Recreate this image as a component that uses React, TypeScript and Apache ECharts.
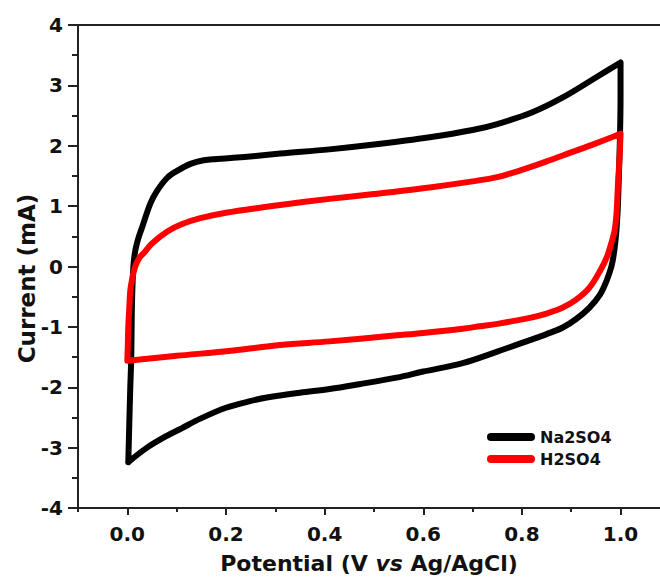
import React, { useEffect, useRef } from "react";
import * as echarts from "echarts";

// Na2SO4 cyclic voltammogram (closed loop, potential in V, current in mA)
const na2so4Potential = [
  0.002, 0.004, 0.006, 0.008, 0.009, 0.011, 0.014, 0.02, 0.03, 0.047, 0.06, 0.081, 0.1, 0.128, 0.155,
  0.182, 0.215, 0.26, 0.31, 0.41, 0.5, 0.613, 0.7, 0.75, 0.82, 0.883, 0.95, 1.0,
  1.0, 0.999, 0.997, 0.994, 0.99, 0.983, 0.972, 0.958, 0.937, 0.91, 0.883, 0.85, 0.816, 0.75, 0.68,
  0.6, 0.546, 0.47, 0.41, 0.35, 0.283, 0.249, 0.2, 0.148, 0.11, 0.081, 0.04, 0.002,
];
const na2so4Current = [
  -3.24, -2.6, -2.0, -1.5, -0.8, -0.2, 0.15, 0.4, 0.65, 1.05, 1.25, 1.47, 1.58, 1.7, 1.76,
  1.78, 1.8, 1.83, 1.87, 1.94, 2.02, 2.14, 2.26, 2.36, 2.55, 2.8, 3.13, 3.38,
  2.8, 2.2, 1.6, 0.9, 0.45, 0.05, -0.23, -0.47, -0.68, -0.87, -1.01, -1.12, -1.22, -1.41, -1.6,
  -1.74, -1.84, -1.95, -2.03, -2.09, -2.17, -2.23, -2.34, -2.52, -2.68, -2.8, -3.0, -3.24,
];

// H2SO4 cyclic voltammogram
const h2so4Potential = [
  0.0, 0.001, 0.002, 0.004, 0.006, 0.01, 0.016, 0.025, 0.033, 0.05, 0.081, 0.11, 0.148, 0.2, 0.283,
  0.31, 0.41, 0.5, 0.613, 0.7, 0.75, 0.8, 0.85, 0.9, 0.95, 1.0,
  0.998, 0.995, 0.992, 0.988, 0.98, 0.972, 0.96, 0.937, 0.91, 0.883, 0.85, 0.816, 0.75, 0.715, 0.68,
  0.6, 0.546, 0.41, 0.31, 0.215, 0.1, 0.0,
];
const h2so4Current = [
  -1.56, -1.3, -1.0, -0.68, -0.4, -0.2, 0.0, 0.15, 0.22, 0.38, 0.58, 0.7, 0.8, 0.89, 0.99,
  1.02, 1.12, 1.2, 1.31, 1.41, 1.48, 1.6, 1.74, 1.89, 2.04, 2.2,
  1.8, 1.4, 0.9, 0.6, 0.35, 0.15, -0.05, -0.35, -0.55, -0.68, -0.78, -0.85, -0.95, -0.99, -1.03,
  -1.1, -1.14, -1.24, -1.3, -1.39, -1.48, -1.56,
];

const seriesNames = ["Na2SO4", "H2SO4"];
const seriesColors = ["#000000", "#ff0000"];
const xLabelValues = [0, 0.2, 0.4, 0.6, 0.8, 1.0];
const xMinorTickValues = [-0.1, 0.1, 0.3, 0.5, 0.7, 0.9];

export default function App() {
  const ref = useRef<HTMLDivElement>(null);

  useEffect(() => {
    const chart = echarts.init(ref.current!, null, { renderer: "svg" });
    const font = "'DejaVu Sans', 'Liberation Sans', sans-serif";
    const axisColor = "#222";
    const capsule = "path://M4,0 L44,0 A4,4 0 0 1 44,8 L4,8 A4,4 0 0 1 4,0 Z";
    const toPairs = (xs: number[], ys: number[]) => xs.map((x, i) => [x, ys[i]]);
    const xRange = { min: -0.1, max: 1.08, interval: 0.1 };

    chart.setOption({
      animation: false,
      grid: { left: 78, top: 25, right: 0, bottom: 70, outerBoundsMode: "none", containLabel: false },
      legend: {
        orient: "vertical",
        left: 482,
        top: 424,
        itemWidth: 48,
        itemHeight: 8,
        itemGap: 6,
        itemStyle: { borderWidth: 0 },
        textStyle: { fontFamily: font, fontWeight: "bold", fontSize: 16, color: "#111" },
        data: seriesNames.map((n) => ({ name: n, icon: capsule })),
      },
      xAxis: [
        {
          type: "value",
          ...xRange,
          position: "bottom",
          name: "{a|Potential (V }{b|vs}{a| Ag/AgCl)}",
          nameLocation: "middle",
          nameGap: 44,
          nameTextStyle: {
            rich: {
              a: { fontFamily: font, fontWeight: "bold", fontSize: 22, color: "#111" },
              b: { fontFamily: font, fontWeight: "bold", fontStyle: "italic", fontSize: 22, color: "#111" },
            },
          },
          axisLine: { show: true, onZero: false, lineStyle: { color: axisColor, width: 2 } },
          axisTick: { show: true, inside: false, length: 7, customValues: xLabelValues, lineStyle: { color: axisColor, width: 2 } },
          axisLabel: {
            customValues: xLabelValues,
            formatter: (v: number) => v.toFixed(1),
            fontFamily: font,
            fontWeight: "bold",
            fontSize: 20,
            color: "#111",
            margin: 16,
          },
          splitLine: { show: false },
        },
        {
          type: "value",
          ...xRange,
          position: "bottom",
          axisLine: { show: false, onZero: false },
          axisTick: { show: true, inside: false, length: 4, customValues: xMinorTickValues, lineStyle: { color: axisColor, width: 2 } },
          axisLabel: { show: false },
          splitLine: { show: false },
        },
        {
          type: "value",
          ...xRange,
          position: "top",
          axisLine: { show: true, onZero: false, lineStyle: { color: axisColor, width: 2 } },
          axisTick: { show: false },
          axisLabel: { show: false },
          splitLine: { show: false },
        },
      ],
      yAxis: {
        type: "value",
        min: -4,
        max: 4,
        interval: 1,
        name: "Current (mA)",
        nameLocation: "middle",
        nameGap: 40,
        nameMoveOverlap: false,
        nameRotate: 90,
        nameTextStyle: { fontFamily: font, fontWeight: "bold", fontSize: 23, color: "#111", padding: [0, 24, 0, 0] },
        axisLine: { show: true, onZero: false, lineStyle: { color: axisColor, width: 2 } },
        axisTick: { show: true, inside: false, length: 10, lineStyle: { color: axisColor, width: 2 } },
        minorTick: { show: true, splitNumber: 2, length: 6, lineStyle: { color: axisColor, width: 2 } },
        axisLabel: { fontFamily: font, fontWeight: "bold", fontSize: 20, color: "#111", margin: 15 },
        splitLine: { show: false },
      },
      series: [
        {
          type: "line",
          name: seriesNames[0],
          data: toPairs(na2so4Potential, na2so4Current),
          showSymbol: false,
          symbol: "none",
          smooth: 0.35,
          lineStyle: { color: seriesColors[0], width: 6, cap: "round", join: "round" },
          itemStyle: { color: seriesColors[0] },
        },
        {
          type: "line",
          name: seriesNames[1],
          data: toPairs(h2so4Potential, h2so4Current),
          showSymbol: false,
          symbol: "none",
          smooth: 0.35,
          lineStyle: { color: seriesColors[1], width: 6, cap: "round", join: "round" },
          itemStyle: { color: seriesColors[1] },
        },
      ],
    });

    return () => chart.dispose();
  }, []);

  return (
    <div
      ref={ref}
      style={{ position: "fixed", left: 0, top: 0, width: 660, height: 578, background: "#fff" }}
    />
  );
}
